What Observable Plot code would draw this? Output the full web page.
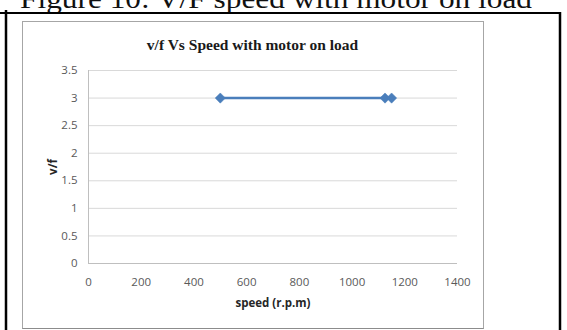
<!DOCTYPE html>
<html>
<head>
<meta charset="utf-8">
<script src="https://cdn.jsdelivr.net/npm/d3@7"></script>
<script src="https://cdn.jsdelivr.net/npm/@observablehq/plot@0.6"></script>
<style>
  html, body { margin: 0; padding: 0; background: #fff; }
  #page { position: relative; width: 567px; height: 330px; overflow: hidden; background: #fff; }
  #deco { position: absolute; left: 0; top: 0; }
  #frame { position: absolute; left: 22px; top: 21px; width: 460px; height: 306px; border: 1px solid #a6a6a6; border-bottom-color: #8c8c8c; box-sizing: content-box; }
  #chart { position: absolute; left: 0; top: 0; }
  #title { position: absolute; left: 22px; width: 461px; top: 36px; text-align: center; font-family: "Liberation Serif", "Times New Roman", serif; font-weight: bold; font-size: 15.5px; color: #1a1a1a; line-height: 17px; }
</style>
</head>
<body>
<div id="page">
  <svg id="deco" width="567" height="330">
    <text x="20" y="8" font-family="Liberation Serif, serif" font-size="27" textLength="512" lengthAdjust="spacingAndGlyphs" fill="#111">Figure 10: V/F speed with motor on load</text>
    <line x1="0" x2="561" y1="13" y2="13" stroke="#000" stroke-width="2"/>
    <line x1="6" x2="6" y1="10" y2="330" stroke="#000" stroke-width="2.5"/>
    <line x1="560" x2="560" y1="12" y2="330" stroke="#000" stroke-width="2.5"/>
  </svg>
  <div id="frame"></div>
  <div id="title">v/f Vs Speed with motor on load</div>
  <div id="chart"></div>
</div>
<script>
// Data
const speed = [500, 1125, 1150];
const vf = [3, 3, 3];
const xTicks = [0, 200, 400, 600, 800, 1000, 1200, 1400];
const yTicks = [0, 0.5, 1, 1.5, 2, 2.5, 3, 3.5];
const chartTitle = "v/f Vs Speed with motor on load";
const xLabel = "speed (r.p.m)";
const yLabel = "v/f";

const data = speed.map((s, i) => ({speed: s, vf: vf[i]}));

const plot = Plot.plot({
  width: 567,
  height: 330,
  marginLeft: 88,
  marginRight: 110,
  marginTop: 70,
  marginBottom: 67,
  style: {background: "transparent", fontFamily: "'Open Sans', sans-serif", fontSize: "11.5px", color: "#595959", overflow: "visible"},
  x: {domain: [0, 1400], ticks: xTicks, tickFormat: d => String(d), tickSize: 0, tickPadding: 14,
      label: xLabel, labelAnchor: "center", labelOffset: 43, labelArrow: "none"},
  y: {domain: [0, 3.5], ticks: yTicks, tickFormat: d => String(d), tickSize: 0, tickPadding: 11,
      label: yLabel, labelAnchor: "center", labelOffset: 40, labelArrow: "none"},
  marks: [
    Plot.ruleY(yTicks, {stroke: "#d9d9d9", strokeWidth: 1}),
    Plot.ruleX([0], {stroke: "#bfbfbf", strokeWidth: 1}),
    Plot.ruleY([0], {stroke: "#bfbfbf", strokeWidth: 1}),
    Plot.line(data, {x: "speed", y: "vf", stroke: "#4a7ebb", strokeWidth: 2.5}),
    Plot.dot(data, {x: "speed", y: "vf", symbol: "diamond2", r: 4.6, fill: "#4a7ebb", stroke: "#4a7ebb", strokeWidth: 0.5})
  ]
});
// bold axis labels
plot.querySelectorAll("[aria-label='x-axis label'] text, [aria-label='y-axis label'] text").forEach(t => {
  t.setAttribute("font-weight", "bold");
  t.setAttribute("fill", "#262626");
  t.setAttribute("font-size", "11.5");
});
document.getElementById("chart").appendChild(plot);
document.getElementById("title").textContent = chartTitle;
</script>
</body>
</html>
